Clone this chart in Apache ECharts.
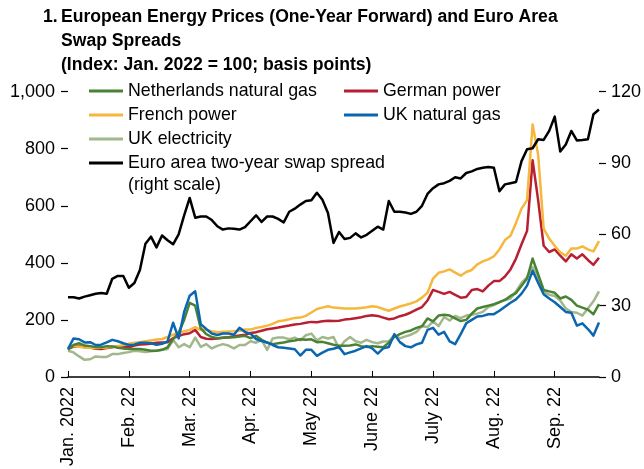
<!DOCTYPE html>
<html>
<head>
<meta charset="utf-8">
<script src="https://cdn.jsdelivr.net/npm/echarts@6/dist/echarts.min.js"></script>
<style>
html,body{margin:0;padding:0;background:#fff;}
#c{width:644px;height:469px;}
</style>
</head>
<body>
<div id="c"></div>
<script>
// Tick labels (one every 11 points)
const tickLabels = ['Jan. 2022','Feb. 22','Mar. 22','Apr. 22','May 22','June 22','July 22','Aug. 22','Sep. 22'];

// Index: Jan. 2022 = 100 (left scale)
const netherlandsGas = [95,112,118,110,108,105,104,108,107,102,100,98,98,98,95,92,92,95,104,132,155,200,260,250,170,150,140,136,137,138,139,142,144,136,144,130,120,115,118,121,125,128,132,130,132,122,123,118,113,109,109,110,114,108,105,108,106,104,120,140,150,158,163,172,178,205,195,215,218,215,205,196,200,222,240,245,250,255,262,270,284,294,320,345,415,360,305,300,295,275,282,270,250,243,236,220,255];
const germanPower = [100,106,108,104,103,99,98,101,104,108,106,104,110,114,115,116,120,121,122,136,143,150,153,165,140,134,133,135,137,139,142,145,148,154,157,162,167,170,173,177,180,184,186,190,193,192,195,197,196,197,201,203,206,209,214,216,214,208,202,205,213,218,226,236,245,268,305,298,291,298,288,278,280,305,308,300,320,336,336,352,377,415,465,512,760,620,460,438,447,425,405,430,415,430,410,393,418];
const frenchPower = [105,108,106,103,102,101,102,103,106,108,112,116,120,122,125,128,131,133,140,148,155,160,165,175,165,165,160,157,158,159,160,162,166,166,172,175,180,186,195,198,202,207,208,214,226,238,243,248,243,242,240,240,240,242,244,248,245,238,232,240,247,252,258,265,278,295,345,365,370,377,366,355,368,375,395,405,412,423,447,480,495,540,590,620,885,780,520,485,460,437,425,450,450,458,447,440,476];
const ukNaturalGas = [98,135,132,121,122,112,113,121,130,125,118,112,113,120,120,118,113,116,125,190,135,228,285,300,185,168,152,147,152,152,148,172,158,152,133,126,121,112,104,102,100,97,75,95,95,74,85,95,99,105,80,86,92,100,108,100,82,100,105,150,122,108,104,114,120,165,172,148,158,125,115,150,188,200,212,214,220,220,232,246,260,272,292,320,372,330,290,275,262,245,228,225,180,188,168,145,191];
const ukElectricity = [92,86,72,60,62,72,70,70,80,80,84,87,92,90,87,90,92,95,98,130,104,115,104,138,105,115,100,109,115,110,100,112,112,125,120,130,95,135,138,138,132,138,128,146,152,128,140,135,140,100,125,140,125,120,130,122,118,124,125,147,135,142,148,158,178,175,195,178,210,198,214,206,215,218,222,228,245,252,262,270,275,300,330,350,385,345,300,288,284,268,240,228,225,215,240,265,300];
// Basis points (right scale)
const euroSwapSpread = [33.5,33.5,33,33.8,34.4,35,35.3,35,41.3,42.5,42.5,37.5,39.5,45,56,59,54.5,59.5,57.5,55.8,60,68,75.3,67,67.5,67.5,66,63.4,62,62.5,62.3,62,63,65.5,68,65.2,67.5,67.5,66.5,65,69.5,70.8,72.5,74,74.3,77.5,74.5,69,56.4,61,58,58.5,60.4,58.7,59.8,61.5,63.2,62,74,69.5,69.5,69.2,68.6,69.5,72,77,79.4,81,81.5,82.5,84,83.5,85.8,86.5,87.5,88,88.3,88,78.1,81,81.5,82,90.8,95.8,96.2,100,99.7,103.5,109.5,94.8,97.8,103.5,99.5,99.7,100,110.5,112.5];

const categories = netherlandsGas.map((_, i) => String(i));

const FONT = '"Liberation Sans Narrow","Arial Narrow","Liberation Sans",Arial,sans-serif';
const C = {
  nl: '#4a8234', de: '#b81f32', fr: '#f6b73c', ukg: '#0b66b2', uke: '#a2b78c', eu: '#000000'
};
const chart = echarts.init(document.getElementById('c'), null, {renderer: 'canvas'});
const lineSeries = (name, data, color, yIdx, width) => ({
  name, type: 'line', data, yAxisIndex: yIdx, symbol: 'none', smooth: false,
  lineStyle: {color, width: width || 2.5, join: 'round'}, itemStyle: {color},
  emphasis: {disabled: true}, silent: true
});
const legendText = {fontFamily: FONT, fontSize: 17.8, color: '#000', lineHeight: 24};
const titleText = {fontFamily: FONT, fontSize: 17.6, fontWeight: 'bold', color: '#000', lineHeight: 24};
chart.setOption({
  animation: false,
  backgroundColor: '#fff',
  textStyle: {fontFamily: FONT},
  title: [
    {text: '1.', left: 43, top: 5, textStyle: titleText, padding: 0},
    {text: 'European Energy Prices (One-Year Forward) and Euro Area\nSwap Spreads\n(Index: Jan. 2022 = 100; basis points)', left: 61, top: 5,
     textStyle: titleText, padding: 0}
  ],
  legend: [
    {left: 84, top: 74, orient: 'vertical', icon: 'rect', itemWidth: 34, itemHeight: 3, itemGap: 0,
     data: ['Netherlands natural gas', 'French power', 'UK electricity', 'Euro area two-year swap spread'],
     textStyle: legendText, selectedMode: false},
    {left: 339, top: 74, orient: 'vertical', icon: 'rect', itemWidth: 34, itemHeight: 3, itemGap: 0,
     data: ['German power', 'UK natural gas'], textStyle: legendText, selectedMode: false}
  ],
  graphic: [
    {type: 'text', left: 128, top: 176, style: {text: '(right scale)', font: '17.8px ' + FONT, fill: '#000'}}
  ],
  grid: {left: 68, right: 44.3, top: 91.7, bottom: 91, containLabel: false},
  xAxis: {
    type: 'category', data: categories, boundaryGap: false,
    axisLine: {lineStyle: {color: '#000', width: 1.5}},
    axisTick: {inside: true, length: 6, interval: 10, lineStyle: {color: '#000', width: 1}},
    axisLabel: {interval: 10, rotate: 90, margin: 10, fontSize: 18, color: '#000', fontFamily: FONT,
      formatter: (v, i) => tickLabels[Math.round(i / 11)] || ''},
    splitLine: {show: false}
  },
  yAxis: [
    {type: 'value', min: 0, max: 1000, interval: 200, position: 'left',
     axisLine: {show: false}, axisTick: {show: true, length: 7, lineStyle: {color: '#000', width: 1.2}},
     axisLabel: {margin: 13, fontSize: 18, color: '#000', fontFamily: FONT,
       formatter: v => v.toLocaleString('en-US')},
     splitLine: {show: false}},
    {type: 'value', min: 0, max: 120, interval: 30, position: 'right',
     axisLine: {show: false}, axisTick: {show: true, length: 7, lineStyle: {color: '#000', width: 1.2}},
     axisLabel: {margin: 12, fontSize: 18, color: '#000', fontFamily: FONT},
     splitLine: {show: false}}
  ],
  series: [
    lineSeries('UK electricity', ukElectricity, C.uke, 0),
    lineSeries('German power', germanPower, C.de, 0),
    lineSeries('French power', frenchPower, C.fr, 0),
    lineSeries('Netherlands natural gas', netherlandsGas, C.nl, 0),
    lineSeries('UK natural gas', ukNaturalGas, C.ukg, 0),
    lineSeries('Euro area two-year swap spread', euroSwapSpread, C.eu, 1, 2.5)
  ]
});
</script>
</body>
</html>
